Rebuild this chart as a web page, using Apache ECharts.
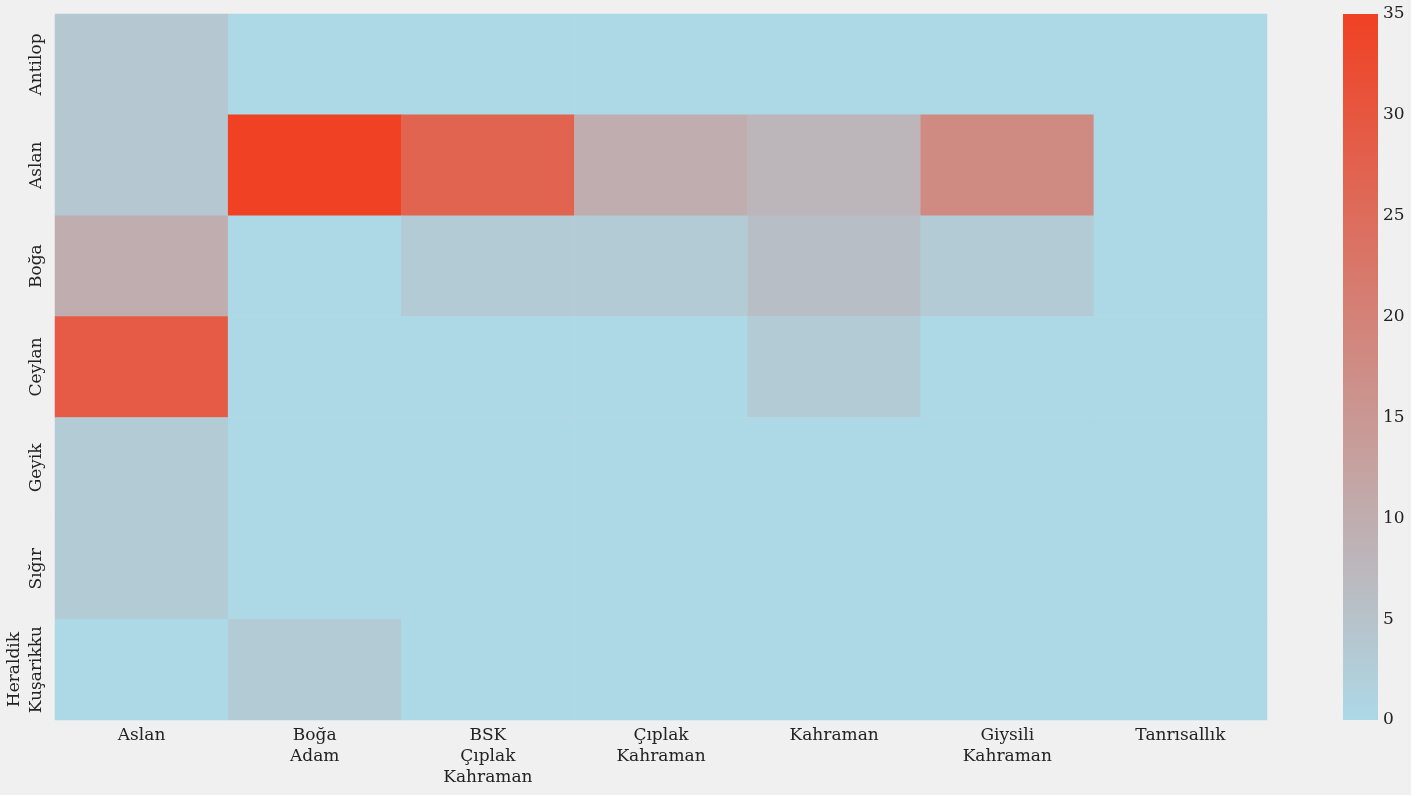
<!DOCTYPE html>
<html>
<head>
<meta charset="utf-8">
<script src="https://cdn.jsdelivr.net/npm/echarts@6/dist/echarts.min.js"></script>
<style>
html,body{margin:0;padding:0;background:#ffffff;}
#chart{width:1411px;height:795px;background:#f0f0f0;}
</style>
</head>
<body>
<div id="chart"></div>
<script>
const xCategories = ['Aslan', 'Boğa\nAdam', 'BSK\nÇıplak\nKahraman', 'Çıplak\nKahraman', 'Kahraman', 'Giysili\nKahraman', 'Tanrısallık'];
const yCategories = ['Antilop', 'Aslan', 'Boğa', 'Ceylan', 'Geyik', 'Sığır', 'Heraldik\nKuşarikku'];
const rowAntilop  = [4, 0, 0, 0, 0, 0, 0];
const rowAslan    = [4, 35, 27, 10, 8, 18, 0];
const rowBoga     = [10, 0, 3, 3, 6, 3, 0];
const rowCeylan   = [29, 0, 0, 0, 3, 0, 0];
const rowGeyik    = [3, 0, 0, 0, 0, 0, 0];
const rowSigir    = [3, 0, 0, 0, 0, 0, 0];
const rowHeraldik = [0, 3, 0, 0, 0, 0, 0];
const rows = [rowAntilop, rowAslan, rowBoga, rowCeylan, rowGeyik, rowSigir, rowHeraldik];
const colorMin = 0, colorMax = 35, colorTick = 5;
const colorLow = '#add8e6', colorHigh = '#f04124';

const data = [];
rows.forEach((r, yi) => r.forEach((v, xi) => data.push([xi, yi, v])));

const font = 'DejaVu Serif';
const fs = 17;
const chart = echarts.init(document.getElementById('chart'));
chart.setOption({
  backgroundColor: '#f0f0f0',
  animation: false,
  grid: [
    {left: 55, top: 14, width: 1212, height: 706},
    {left: 1343, top: 14, width: 35, height: 706}
  ],
  xAxis: [
    {type: 'category', data: xCategories, gridIndex: 0,
     axisLine: {show: false}, axisTick: {show: false}, splitLine: {show: false},
     axisLabel: {fontFamily: font, fontSize: fs, color: '#222', lineHeight: 21, margin: 5, interval: 0}},
    {type: 'category', data: ['c'], gridIndex: 1, show: false}
  ],
  yAxis: [
    {type: 'category', data: yCategories, gridIndex: 0, inverse: true,
     axisLine: {show: false}, axisTick: {show: false}, splitLine: {show: false},
     axisLabel: {fontFamily: font, fontSize: fs, color: '#222', rotate: 90, lineHeight: 22, margin: 7, interval: 0}},
    {type: 'value', gridIndex: 1, position: 'right', min: colorMin, max: colorMax, interval: colorTick,
     axisLine: {show: false}, axisTick: {show: false}, splitLine: {show: false},
     axisLabel: {fontFamily: font, fontSize: fs, color: '#222', margin: 5, verticalAlign: 'middle'}}
  ],
  visualMap: {
    type: 'continuous',
    show: false,
    min: colorMin, max: colorMax,
    seriesIndex: 0,
    inRange: {color: [colorLow, colorHigh]}
  },
  series: [
    {type: 'heatmap', xAxisIndex: 0, yAxisIndex: 0, data: data,
     itemStyle: {borderWidth: 0}, emphasis: {disabled: true}},
    {type: 'bar', xAxisIndex: 1, yAxisIndex: 1, data: [colorMax], barWidth: '100%', silent: true,
     itemStyle: {color: new echarts.graphic.LinearGradient(0, 1, 0, 0, [
       {offset: 0, color: colorLow}, {offset: 1, color: colorHigh}])}}
  ]
});
</script>
</body>
</html>
